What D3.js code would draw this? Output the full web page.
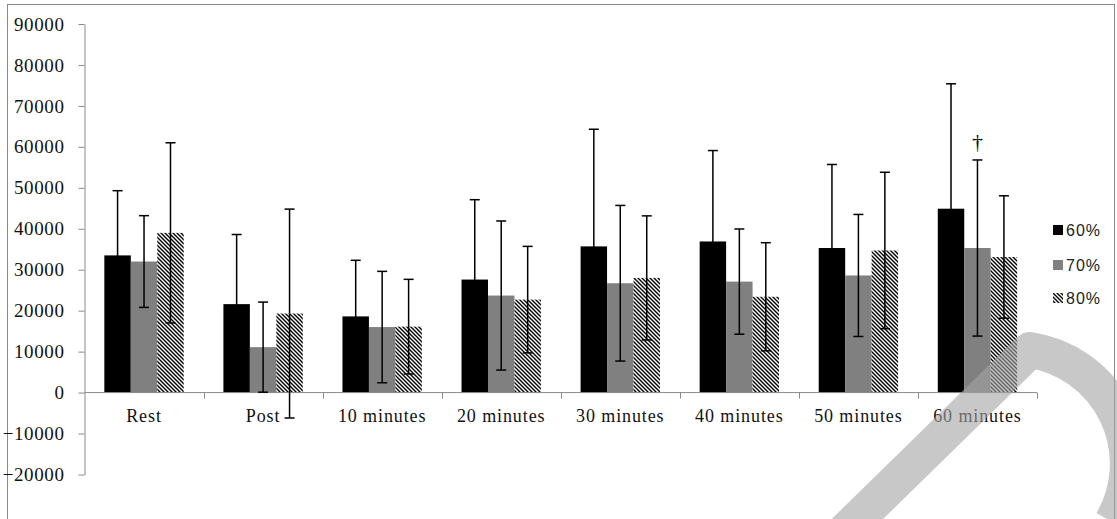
<!DOCTYPE html>
<html>
<head>
<meta charset="utf-8">
<script src="https://cdn.jsdelivr.net/npm/d3@7"></script>
<style>
  html, body { margin: 0; padding: 0; background: #fff; }
  svg { display: block; }
</style>
</head>
<body>
<script>
// ---- data ----
const categories = ["Rest", "Post", "10 minutes", "20 minutes", "30 minutes", "40 minutes", "50 minutes", "60 minutes"];
const seriesNames = ["60%", "70%", "80%"];
const mean60 = [33500, 21600, 18600, 27600, 35700, 36900, 35300, 44900];
const sd60   = [15800, 17000, 13700, 19500, 28600, 22200, 20400, 30500];
const mean70 = [32000, 11100, 16000, 23700, 26700, 27100, 28600, 35300];
const sd70   = [11200, 11000, 13600, 18200, 19000, 12850, 14900, 21500];
const mean80 = [39000, 19300, 16100, 22700, 28000, 23400, 34700, 33100];
const sd80   = [22000, 25500, 11550, 13000, 15150, 13200, 19100, 14950];
const yTickValues = [-20000, -10000, 0, 10000, 20000, 30000, 40000, 50000, 60000, 70000, 80000, 90000];
const annotations = [{ category: "60 minutes", series: "70%", text: "\u2020" }];

const W = 1117, H = 519;
const svg = d3.select("body").append("svg").attr("width", W).attr("height", H);

const defs = svg.append("defs");
const pat = defs.append("pattern").attr("id", "hatch").attr("patternUnits", "userSpaceOnUse")
  .attr("width", 4).attr("height", 4);
pat.append("rect").attr("width", 4).attr("height", 4).attr("fill", "#fff");
pat.append("path").attr("d", "M-1,-1 L5,5 M-1,3 L1,5 M3,-1 L5,1")
  .attr("stroke", "#000").attr("stroke-width", 1.4);

// outer frame
svg.append("rect").attr("x", 7.5).attr("y", 4.5).attr("width", 1107).attr("height", 600)
  .attr("fill", "none").attr("stroke", "#8a8a8a").attr("stroke-width", 1);

const y = d3.scaleLinear().domain([-20000, 90000]).range([474.5, 24]);
const x = d3.scaleBand().domain(categories).range([84.5, 1037]).paddingInner(0).paddingOuter(0);
const xs = d3.scaleBand().domain(seriesNames).range([0, x.bandwidth()]).paddingInner(0).paddingOuter(0.75);

const data = seriesNames.map((s, si) => {
  const m = [mean60, mean70, mean80][si], sd = [sd60, sd70, sd80][si];
  return categories.map((c, i) => ({ cat: c, series: s, mean: m[i], sd: sd[i] }));
});
const fills = { "60%": "#000", "70%": "#808080", "80%": "url(#hatch)" };

// y axis
const yAxis = svg.append("g").attr("transform", "translate(84.5,0)")
  .call(d3.axisLeft(y).tickValues(yTickValues).tickFormat(d3.format("d")).tickSize(6).tickSizeOuter(0).tickPadding(14));
yAxis.select(".domain").attr("stroke", "#8a8a8a");
yAxis.selectAll(".tick line").attr("stroke", "#8a8a8a");
yAxis.selectAll(".tick text").attr("font-family", "'Liberation Serif', 'Times New Roman', serif")
  .attr("font-size", 19).attr("fill", "#111").attr("letter-spacing", 0.6);

// bars
const groups = svg.append("g");
data.forEach(ser => {
  groups.selectAll(null).data(ser).enter().append("rect")
    .attr("x", d => x(d.cat) + xs(d.series))
    .attr("y", d => y(Math.max(0, d.mean)))
    .attr("width", xs.bandwidth())
    .attr("height", d => Math.abs(y(d.mean) - y(0)))
    .attr("fill", d => fills[d.series]);
});

// x axis (drawn at zero)
const xAxisG = svg.append("g").attr("transform", `translate(0,${y(0)})`);
xAxisG.append("line").attr("x1", 84.5).attr("x2", 1037).attr("y1", 0).attr("y2", 0)
  .attr("stroke", "#8a8a8a");
xAxisG.selectAll(".sep").data(categories).enter().append("line")
  .attr("x1", d => Math.round(x(d) + x.bandwidth()) + 0.5)
  .attr("x2", d => Math.round(x(d) + x.bandwidth()) + 0.5)
  .attr("y1", 0).attr("y2", 6).attr("stroke", "#8a8a8a");
xAxisG.selectAll(".lab").data(categories).enter().append("text")
  .attr("x", d => x(d) + x.bandwidth() / 2)
  .attr("y", 29)
  .attr("text-anchor", "middle")
  .attr("font-family", "'Liberation Serif', 'Times New Roman', serif")
  .attr("font-size", 18).attr("letter-spacing", 0.9).attr("fill", "#111")
  .text(d => d);

// error bars
const eb = svg.append("g").attr("stroke", "#000").attr("stroke-width", 1.5).attr("fill", "none");
data.forEach(ser => {
  ser.forEach(d => {
    const cx = x(d.cat) + xs(d.series) + xs.bandwidth() / 2;
    const yt = y(d.mean + d.sd), yb = y(d.mean - d.sd);
    eb.append("line").attr("x1", cx).attr("x2", cx).attr("y1", yt).attr("y2", yb);
    eb.append("line").attr("x1", cx - 5).attr("x2", cx + 5).attr("y1", yt).attr("y2", yt);
    eb.append("line").attr("x1", cx - 5).attr("x2", cx + 5).attr("y1", yb).attr("y2", yb);
  });
});

// annotation dagger
annotations.forEach(a => {
  const si = seriesNames.indexOf(a.series), ci = categories.indexOf(a.category);
  const d = data[si][ci];
  svg.append("text")
    .attr("x", x(a.category) + xs(a.series) + xs.bandwidth() / 2)
    .attr("y", y(d.mean + d.sd) - 11)
    .attr("text-anchor", "middle")
    .attr("font-family", "'Liberation Serif', 'Times New Roman', serif")
    .attr("font-size", 22).attr("fill", "#111")
    .text(a.text);
});

// legend
const legendY = [230, 265, 298];
const lg = svg.append("g");
seriesNames.forEach((s, i) => {
  lg.append("rect").attr("x", 1053).attr("y", legendY[i] - 5).attr("width", 10).attr("height", 10)
    .attr("fill", fills[s]);
  lg.append("text").attr("x", 1066).attr("y", legendY[i]).attr("dy", "0.36em")
    .attr("font-family", "'Liberation Sans', Arial, sans-serif").attr("font-size", 16)
    .attr("letter-spacing", 1).attr("fill", "#222").text(s);
});

// watermark overlay
svg.append("path")
  .attr("d", "M 790,585 L 1030,350 A 115 115 0 0 1 1112,522")
  .attr("fill", "none").attr("stroke", "#a4a4a4").attr("stroke-opacity", 0.6)
  .attr("stroke-width", 36).attr("stroke-linejoin", "round");
</script>
</body>
</html>
